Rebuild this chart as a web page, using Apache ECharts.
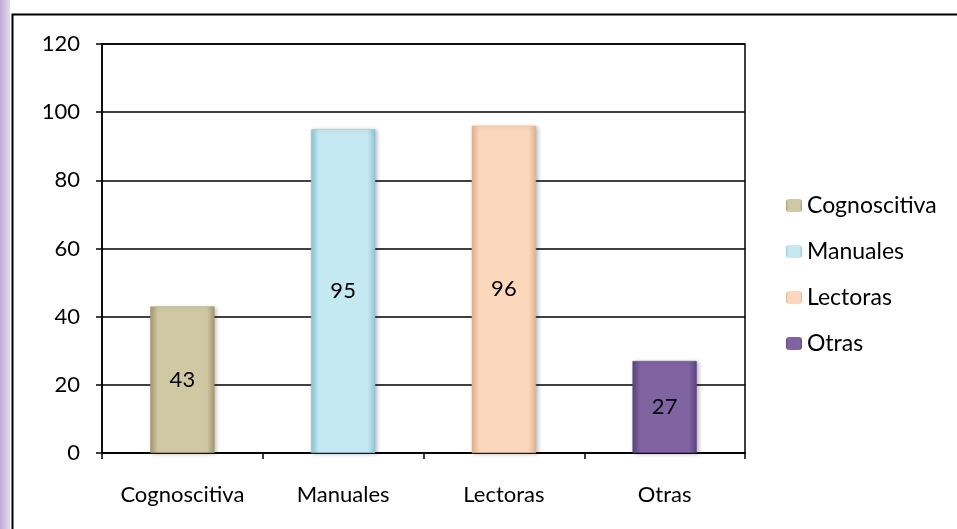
<!DOCTYPE html>
<html>
<head>
<meta charset="utf-8">
<script src="https://cdn.jsdelivr.net/npm/echarts@6/dist/echarts.min.js"></script>
<style>
  html, body { margin: 0; padding: 0; background: #fff; }
  #main { width: 957px; height: 529px; }
</style>
</head>
<body>
<div id="main"></div>
<script>
const categories = ['Cognoscitiva', 'Manuales', 'Lectoras', 'Otras'];
const values = [43, 95, 96, 27];
const mainColors = ['#CFC8A2', '#C4E9F3', '#FBD8BC', '#8064A2'];
const edgeColors = ['#A39970', '#8EC3D2', '#E0B48F', '#5B4280'];
const yTicks = { min: 0, max: 120, interval: 20 };

const FONT = 'Lato';

const myChart = echarts.init(document.getElementById('main'));

function bevel(i) {
    return new echarts.graphic.LinearGradient(0, 0, 1, 0, [
        { offset: 0, color: edgeColors[i] },
        { offset: 0.12, color: mainColors[i] },
        { offset: 0.88, color: mainColors[i] },
        { offset: 1, color: edgeColors[i] }
    ]);
}

const series = categories.map(function (name, i) {
    return {
        name: name,
        type: 'bar',
        stack: 'all',
        barWidth: '40%',
        data: categories.map(function (c, j) { return j === i ? values[i] : '-'; }),
        itemStyle: {
            color: bevel(i),
            borderColor: edgeColors[i],
            borderWidth: 0.5,
            shadowColor: 'rgba(0,0,0,0.25)',
            shadowBlur: 4,
            shadowOffsetX: 2,
            shadowOffsetY: 1
        },
        label: {
            show: true,
            position: 'inside',
            color: '#000',
            fontFamily: FONT,
            fontSize: 22
        }
    };
});

const option = {
    animation: false,
    graphic: [
        {
            type: 'rect',
            shape: { x: 0, y: 0, width: 10, height: 529 },
            style: {
                fill: new echarts.graphic.LinearGradient(0, 0, 1, 0, [
                    { offset: 0, color: '#BFAAD8' },
                    { offset: 1, color: '#E6DCF0' }
                ])
            }
        },
        {
            type: 'rect',
            shape: { x: 12.5, y: 14.5, width: 960, height: 540 },
            style: { fill: 'none', stroke: '#000', lineWidth: 2 }
        }
    ],
    grid: {
        left: 102, right: 212, top: 44, bottom: 76,
        show: true,
        borderColor: '#000',
        borderWidth: 1.5
    },
    legend: {
        orient: 'vertical',
        left: 781,
        top: 189,
        itemWidth: 16,
        itemHeight: 13,
        itemGap: 23,
        itemStyle: { borderWidth: 0 },
        textStyle: { fontFamily: FONT, fontSize: 23, color: '#000' },
        data: categories
    },
    xAxis: {
        type: 'category',
        data: categories,
        axisLine: { lineStyle: { color: '#000', width: 1.5 } },
        axisTick: { show: true, interval: 0, length: 6, lineStyle: { color: '#000', width: 1.5 } },
        axisLabel: { interval: 0, color: '#000', fontFamily: FONT, fontSize: 22, margin: 31 }
    },
    yAxis: {
        type: 'value',
        min: yTicks.min,
        max: yTicks.max,
        interval: yTicks.interval,
        axisLine: { show: true, lineStyle: { color: '#000', width: 1.5 } },
        axisTick: { show: true, length: 6, lineStyle: { color: '#000', width: 1.5 } },
        axisLabel: { color: '#000', fontFamily: FONT, fontSize: 22, margin: 22 },
        splitLine: { lineStyle: { color: '#000', width: 1.5 } }
    },
    series: series
};

myChart.setOption(option);
</script>
</body>
</html>
